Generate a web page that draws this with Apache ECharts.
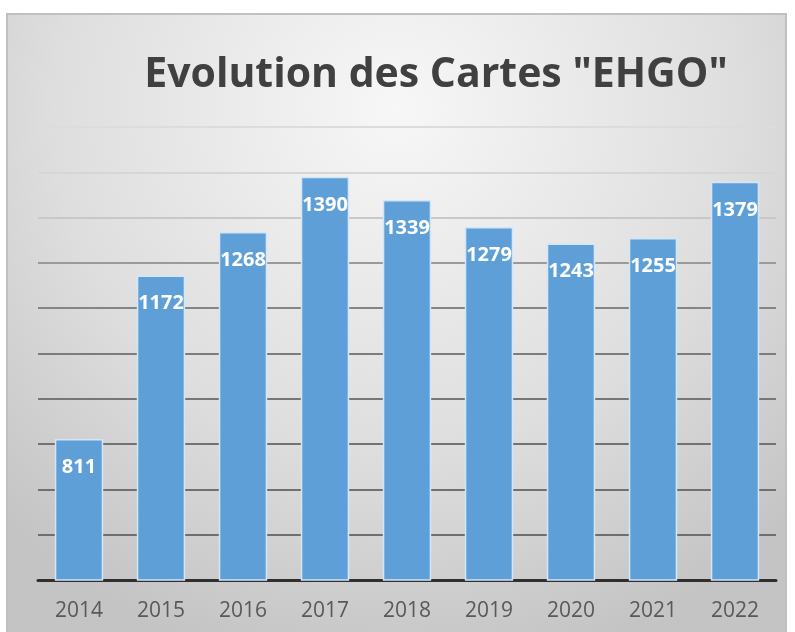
<!DOCTYPE html>
<html>
<head>
<meta charset="utf-8">
<script src="https://cdn.jsdelivr.net/npm/echarts@6/dist/echarts.min.js"></script>
<style>
  html, body { margin: 0; padding: 0; background: #fff; }
  #chart { width: 795px; height: 632px; }
</style>
</head>
<body>
<div id="chart"></div>
<script>
const years = ['2014', '2015', '2016', '2017', '2018', '2019', '2020', '2021', '2022'];
const cartes = [811, 1172, 1268, 1390, 1339, 1279, 1243, 1255, 1379];
const axisMin = 500;
const axisMax = 1500;
const axisStep = 100;

const chart = echarts.init(document.getElementById('chart'));
chart.setOption({
  animation: false,
  graphic: [{
    type: 'rect',
    z: -10,
    shape: { x: 7, y: 14, width: 779, height: 630 },
    style: {
      fill: new echarts.graphic.RadialGradient(0.5, 0.15, 0.9, [
        { offset: 0, color: '#f7f7f7' },
        { offset: 0.6, color: '#dedede' },
        { offset: 1, color: '#c4c4c4' }
      ]),
      stroke: '#c0c0c0',
      lineWidth: 2
    }
  }],
  title: {
    text: 'Evolution des Cartes "EHGO"',
    left: 431,
    textAlign: 'center',
    top: 50,
    textStyle: {
      fontFamily: 'Open Sans',
      fontWeight: 'bold',
      fontSize: 41,
      color: '#404040'
    }
  },
  grid: { left: 38, right: 19, top: 127, bottom: 52 },
  xAxis: {
    type: 'category',
    data: years,
    axisTick: { show: false },
    axisLine: { lineStyle: { color: '#2f2f2f', width: 3 } },
    axisLabel: {
      margin: 21,
      fontFamily: 'Open Sans',
      fontSize: 21,
      color: '#595959'
    }
  },
  yAxis: {
    type: 'value',
    min: axisMin,
    max: axisMax,
    interval: axisStep,
    axisLabel: { show: false },
    axisLine: { show: false },
    axisTick: { show: false },
    splitLine: {
      lineStyle: {
        width: 2,
        color: ['#2f2f2f', '#6e6e6e', '#707070', '#727272', '#767676', '#7c7c7c', '#858585', '#9a9a9a', '#c8c8c8', '#d6d6d6', '#dcdcdc']
      }
    }
  },
  series: [{
    type: 'bar',
    data: cartes,
    barWidth: '59%',
    itemStyle: {
      color: '#5e9fd8',
      borderColor: '#d3e6f7',
      borderWidth: 1.5
    },
    label: {
      show: true,
      position: 'insideTop',
      distance: 18,
      color: '#ffffff',
      fontFamily: 'Open Sans',
      fontWeight: 'bold',
      fontSize: 20
    }
  }]
});
</script>
</body>
</html>
